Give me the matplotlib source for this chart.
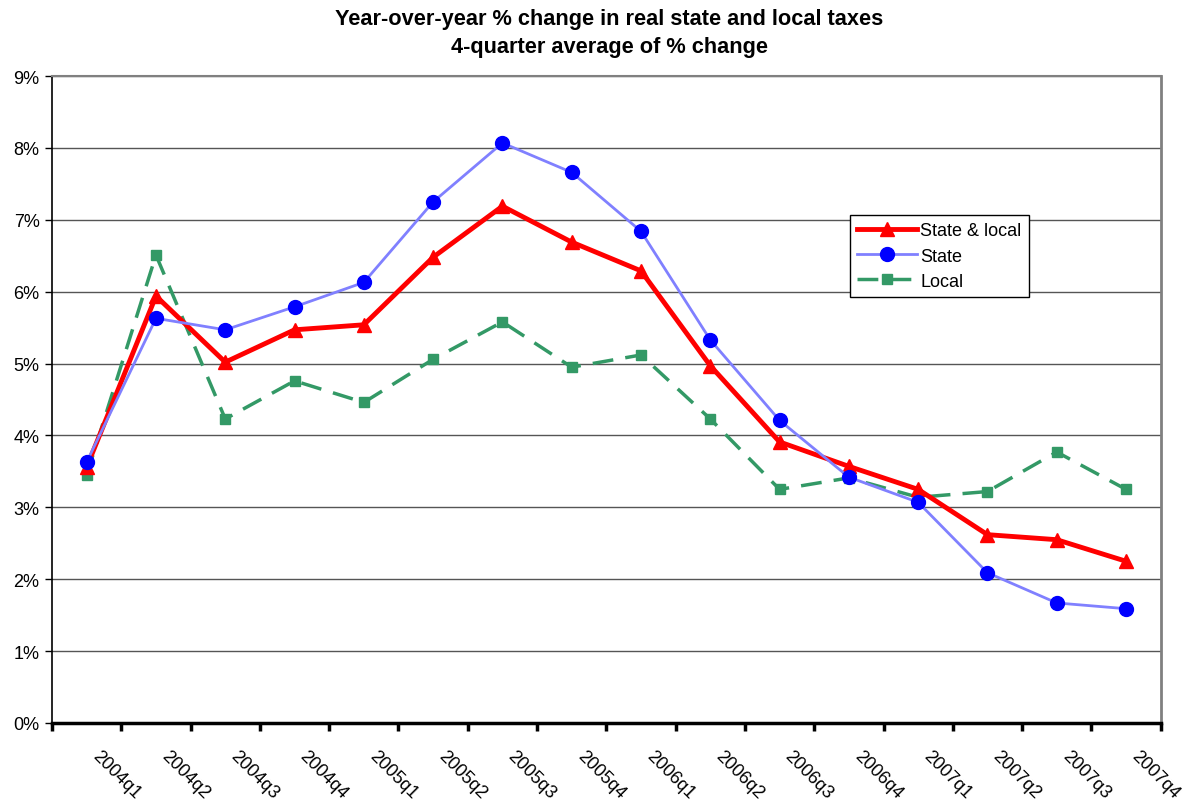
import matplotlib.pyplot as plt
import matplotlib.transforms as mtransforms
import numpy as np

plt.rcParams['font.family'] = ['Liberation Sans', 'DejaVu Sans']

quarters = ['2004q1', '2004q2', '2004q3', '2004q4',
            '2005q1', '2005q2', '2005q3', '2005q4',
            '2006q1', '2006q2', '2006q3', '2006q4',
            '2007q1', '2007q2', '2007q3', '2007q4']

# 4-quarter average of yoy % change
state_local = [3.56, 5.94, 5.02, 5.47, 5.54, 6.48, 7.19, 6.69,
               6.29, 4.97, 3.91, 3.57, 3.25, 2.62, 2.55, 2.25]
state = [3.63, 5.63, 5.47, 5.79, 6.13, 7.25, 8.07, 7.66,
         6.84, 5.33, 4.21, 3.42, 3.07, 2.09, 1.67, 1.59]
local = [3.45, 6.51, 4.23, 4.76, 4.46, 5.06, 5.58, 4.95,
         5.12, 4.23, 3.25, 3.41, 3.14, 3.22, 3.77, 3.25]

fig = plt.figure(figsize=(11.88, 8.03), dpi=100)
ax = fig.add_axes([0.0438, 0.0984, 0.9332, 0.8056])

x = np.arange(len(quarters))
ax.plot(x, state_local, color='#FF0000', lw=3.5, marker='^', ms=10.5,
        label='State & local', zorder=4)
ax.plot(x, state, color='#8080FF', lw=2, marker='o', mfc='#0000FF',
        mec='#0000FF', ms=10, label='State', zorder=5)
ax.plot(x, local, color='#339966', lw=2.5, dashes=(6, 3.5), marker='s',
        ms=7.5, label='Local', zorder=3)

ax.set_xlim(-0.5, len(quarters) - 0.5)
ax.set_ylim(0, 9)

ax.set_yticks(range(10))
ax.set_yticklabels([f'{i}%' for i in range(10)], fontsize=13)
ax.yaxis.grid(True, color='#555555', lw=1)
ax.set_axisbelow(True)

# tick marks on category boundaries, slanted labels drawn as text
ax.set_xticks(np.arange(-0.5, len(quarters)))
ax.set_xticklabels([])
ax.tick_params(axis='x', length=6, width=2.5, direction='out')
ax.tick_params(axis='y', length=5, width=1, direction='out', pad=4)

shift = mtransforms.ScaledTranslation(0.14, -0.24, fig.dpi_scale_trans)
trans = ax.get_xaxis_transform() + shift
for xi, q in zip(x, quarters):
    ax.text(xi, 0, q, transform=trans, fontsize=13, rotation=-45,
            ha='left', va='top', rotation_mode='anchor', clip_on=False)

ax.spines['left'].set_color('black')
ax.spines['left'].set_linewidth(1.2)
ax.spines['bottom'].set_color('black')
ax.spines['bottom'].set_linewidth(2.5)
ax.spines['top'].set_color('#808080')
ax.spines['top'].set_linewidth(1.5)
ax.spines['right'].set_color('#808080')
ax.spines['right'].set_linewidth(2)

fig.text(0.513, 0.976, 'Year-over-year % change in real state and local taxes',
         ha='center', va='center', fontsize=15.7, fontweight='bold')
fig.text(0.513, 0.941, '4-quarter average of % change',
         ha='center', va='center', fontsize=15.7, fontweight='bold')

leg = ax.legend(loc='upper left', bbox_to_anchor=(0.7196, 0.785),
                fontsize=13, frameon=True, fancybox=False, framealpha=1,
                edgecolor='black', handlelength=3.3, borderpad=0.4,
                labelspacing=0.45, handletextpad=0.2, borderaxespad=0)
leg.get_frame().set_linewidth(1)

fig.savefig('out.png', dpi=100)
